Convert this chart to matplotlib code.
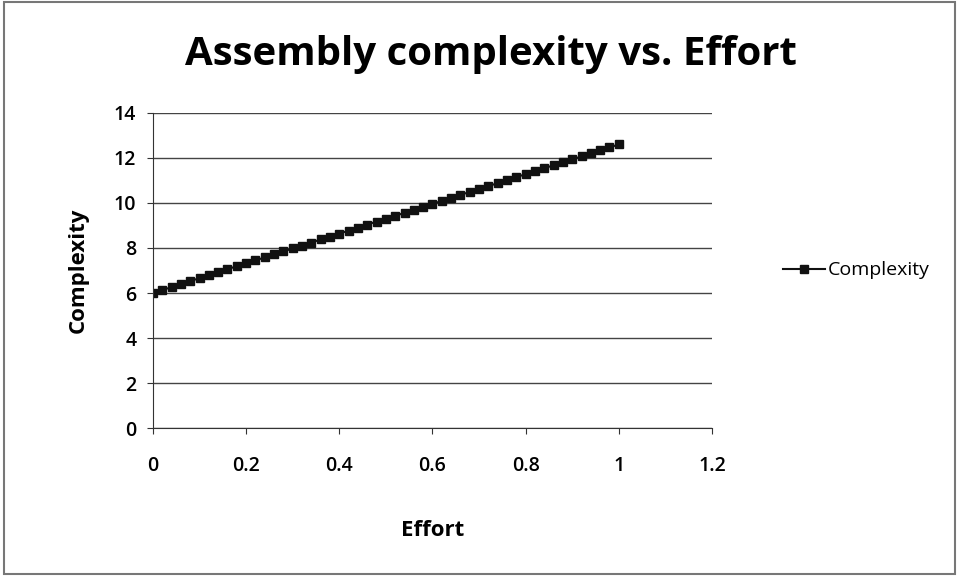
import matplotlib.pyplot as plt
from matplotlib.patches import Rectangle

effort = [0.00, 0.02, 0.04, 0.06, 0.08, 0.10, 0.12, 0.14, 0.16, 0.18,
          0.20, 0.22, 0.24, 0.26, 0.28, 0.30, 0.32, 0.34, 0.36, 0.38,
          0.40, 0.42, 0.44, 0.46, 0.48, 0.50, 0.52, 0.54, 0.56, 0.58,
          0.60, 0.62, 0.64, 0.66, 0.68, 0.70, 0.72, 0.74, 0.76, 0.78,
          0.80, 0.82, 0.84, 0.86, 0.88, 0.90, 0.92, 0.94, 0.96, 0.98, 1.00]
complexity = [6.00, 6.13, 6.26, 6.40, 6.53, 6.66, 6.79, 6.92, 7.06, 7.19,
              7.32, 7.45, 7.58, 7.72, 7.85, 7.98, 8.11, 8.24, 8.38, 8.51,
              8.64, 8.77, 8.90, 9.04, 9.17, 9.30, 9.43, 9.56, 9.70, 9.83,
              9.96, 10.09, 10.22, 10.36, 10.49, 10.62, 10.75, 10.88, 11.02, 11.15,
              11.28, 11.41, 11.54, 11.68, 11.81, 11.94, 12.07, 12.20, 12.34, 12.47, 12.60]

xticks = [0, 0.2, 0.4, 0.6, 0.8, 1, 1.2]
xtick_labels = ['0', '0.2', '0.4', '0.6', '0.8', '1', '1.2']
yticks = [0, 2, 4, 6, 8, 10, 12, 14]

plt.rcParams['font.family'] = ['Open Sans', 'DejaVu Sans']

fig = plt.figure(figsize=(9.59, 5.77), dpi=100)
ax = fig.add_axes([0.1595, 0.2582, 0.5829, 0.5460])

ax.plot(effort, complexity, color='#111111', linewidth=1.5, marker='s',
        markersize=6, label='Complexity')

ax.set_xlim(0, 1.2)
ax.set_ylim(0, 14)
ax.set_xticks(xticks)
ax.set_xticklabels(xtick_labels)
ax.set_yticks(yticks)
ax.tick_params(axis='both', labelsize=14, length=4, direction='out', color='#333333')
ax.tick_params(axis='x', pad=16)
ax.tick_params(axis='y', pad=8)
for lbl in ax.get_xticklabels() + ax.get_yticklabels():
    lbl.set_fontweight('semibold')
ax.grid(axis='y', color='#444444', linewidth=1)
ax.set_axisbelow(True)
for s in ['top', 'right']:
    ax.spines[s].set_visible(False)
for s in ['left', 'bottom']:
    ax.spines[s].set_color('#333333')

ax.set_xlabel('Effort', fontsize=16, fontweight='bold', labelpad=32)
ax.set_ylabel('Complexity', fontsize=16, fontweight='bold', labelpad=18)
fig.text(0.512, 0.905, 'Assembly complexity vs. Effort', ha='center', va='center',
         fontsize=29, fontweight='bold')

ax.legend(loc='center left', bbox_to_anchor=(1.095, 0.5), frameon=False,
          fontsize=14, handlelength=2.2, handletextpad=0.1)

fig.patches.append(Rectangle((0.004, 0.006), 0.992, 0.99, transform=fig.transFigure,
                             fill=False, edgecolor='#777777', linewidth=1.5))

fig.savefig('out.png', dpi=100)
